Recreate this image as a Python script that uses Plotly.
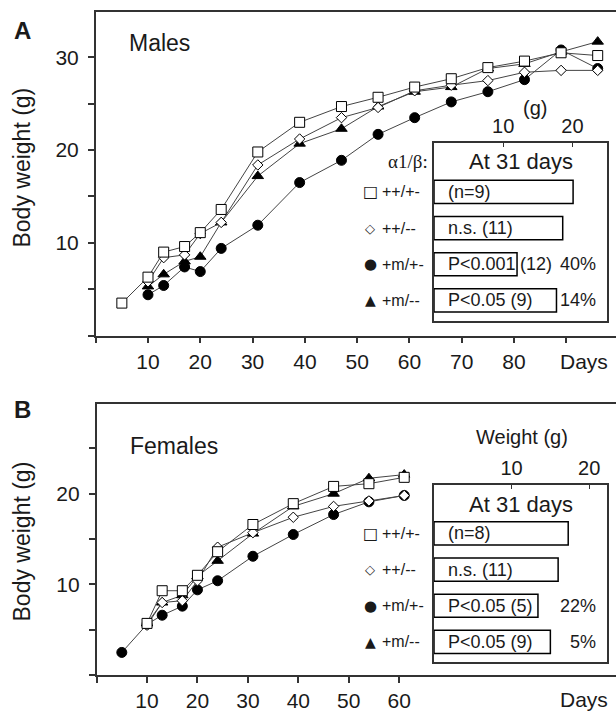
import plotly.graph_objects as go

# ---------------- data ----------------
# Panel A: Males
days_m = [10, 13, 17, 20, 24, 31, 39, 47, 54, 61, 68, 75, 82, 89, 96]
days_m_sq = [5] + days_m
sq_m = [3.5, 6.3, 9.0, 9.6, 11.1, 13.6, 19.8, 23.0, 24.7, 25.7, 26.8, 27.7, 28.9, 29.6, 30.5, 30.2]
di_m = [5.8, 8.4, 8.7, 11.0, 12.2, 18.4, 21.2, 23.5, 24.6, 26.4, 27.0, 27.5, 28.4, 28.6, 28.6]
ci_m = [4.4, 5.4, 7.4, 6.9, 9.4, 11.9, 16.5, 18.9, 21.7, 23.5, 25.2, 26.3, 27.6, 30.8, 28.8]
tr_m = [5.3, 6.6, 8.0, 8.5, 12.2, 17.2, 20.7, 22.3, 24.7, 26.3, 26.8, 28.8, 29.3, 30.6, 31.7]

# Panel B: Females
days_f = [10, 13, 17, 20, 24, 31, 39, 47, 54, 61]
days_f_ci = [5] + days_f
sq_f = [5.7, 9.3, 9.3, 11.0, 13.6, 16.6, 18.9, 20.8, 21.1, 21.8]
di_f = [5.5, 8.0, 8.2, 10.4, 14.1, 15.7, 17.4, 18.6, 19.2, 19.8]
ci_f = [2.5, 5.6, 6.6, 7.6, 9.4, 10.4, 13.1, 15.5, 17.7, 19.1, 19.8]
tr_f = [5.7, 8.0, 8.8, 10.9, 12.6, 15.6, 18.6, 20.0, 21.7, 22.1]

# Insets: weight at 31 days
genotypes = ["++/+-", "++/--", "+m/+-", "+m/--"]
geno_symbols = ["\u25a1", "\u25c7", "\u25cf", "\u25b2"]
geno_sym_size = [16, 13, 15, 14]
rows = [1, 2, 3, 4]
bar_m = [20.1, 18.6, 12.0, 17.7]
bar_f = [17.3, 16.0, 13.4, 15.0]
inbar_m = ["(n=9)", "n.s. (11)", "P<0.001", "P<0.05 (9)"]
after_m = ["", "", "(12)", ""]
pct_m = ["", "", "40%", "14%"]
inbar_f = ["(n=8)", "n.s. (11)", "P<0.05 (5)", "P<0.05 (9)"]
pct_f = ["", "", "22%", "5%"]

x_ticks_m = [0, 10, 20, 30, 40, 50, 60, 70, 80, 90]
x_ticks_f = [0, 10, 20, 30, 40, 50, 60]

# ---------------- styling ----------------
W, H = 616, 712
FONT = "Liberation Sans, Arial, Helvetica, sans-serif"
SERIF = "Liberation Serif, Times New Roman, serif"
SYMFONT = "DejaVu Sans"
INK = "#1a1a1a"
AX = "#333333"
LINE = "#444444"

def px(x):
    return x / W

def py(y):
    return 1 - y / H

fig = go.Figure()

def series(xs, ys, sym, size, fill, xa, ya):
    fig.add_trace(go.Scatter(
        x=xs, y=ys, mode="lines+markers", xaxis=xa, yaxis=ya,
        line=dict(color=LINE, width=1),
        marker=dict(symbol=sym, size=size, color=fill, line=dict(color="black", width=1)),
        showlegend=False, cliponaxis=False))

# Panel A
series(days_m, ci_m, "circle", 10, "black", "x", "y")
series(days_m, tr_m, "triangle-up", 10, "black", "x", "y")
series(days_m, di_m, "diamond", 8, "white", "x", "y")
series(days_m_sq, sq_m, "square", 10, "white", "x", "y")
# Panel B
series(days_f_ci, ci_f, "circle", 10, "black", "x2", "y2")
series(days_f, tr_f, "triangle-up", 10, "black", "x2", "y2")
series(days_f, di_f, "diamond", 8, "white", "x2", "y2")
series(days_f, sq_f, "square", 10, "white", "x2", "y2")

# Inset bars
for vals, xa, ya in [(bar_m, "x3", "y3"), (bar_f, "x4", "y4")]:
    fig.add_trace(go.Bar(
        x=vals, y=rows, orientation="h", xaxis=xa, yaxis=ya,
        width=0.64, marker=dict(color="white", line=dict(color="black", width=1.5)),
        showlegend=False, hoverinfo="skip"))

tickfont = dict(family=FONT, size=21, color=INK)

main_x = dict(showline=True, linecolor=AX, linewidth=1.5, mirror=True, ticks="outside",
              ticklen=6, tickcolor=AX, tickwidth=1.5, showgrid=False, zeroline=False,
              tickfont=tickfont)
main_y = dict(showline=True, linecolor=AX, linewidth=1.5, ticks="outside", ticklen=6,
              tickcolor=AX, tickwidth=1.5, showgrid=False, zeroline=False, tickfont=tickfont,
              ticklabelstandoff=5)

ins_x = dict(showline=True, linecolor=AX, linewidth=1.5, mirror=True, side="top",
             ticks="inside", ticklen=5, tickcolor=AX, tickwidth=1.2, showgrid=False,
             zeroline=False, tickfont=dict(family=FONT, size=20, color=INK))
ins_y = dict(showline=True, linecolor=AX, linewidth=1.5, mirror=True, ticks="",
             showticklabels=False, showgrid=False, zeroline=False)

fig.update_layout(
    width=W, height=H, autosize=False,
    margin=dict(l=0, r=0, t=0, b=0),
    paper_bgcolor="white", plot_bgcolor="white",
    font=dict(family=FONT, color=INK),
    xaxis=dict(main_x, domain=[px(95.7), 1], range=[0, 99.5], anchor="y",
               tickvals=x_ticks_m, ticktext=[""] + [str(v) for v in x_ticks_m[1:-1]] + [""]),
    yaxis=dict(main_y, domain=[py(336.5), py(12)], range=[0, 34.9], anchor="x",
               tickvals=[0, 5, 10, 15, 20, 25, 30], ticktext=["", "", "10", "", "20", "", "30"]),
    xaxis2=dict(main_x, domain=[px(96.6), 1], range=[0, 103], anchor="y2",
                tickvals=x_ticks_f, ticktext=[""] + [str(v) for v in x_ticks_f[1:]]),
    yaxis2=dict(main_y, domain=[py(677), py(405)], range=[0, 29.9], anchor="x2",
                tickvals=[0, 5, 10, 15, 20, 25], ticktext=["", "", "10", "", "20", ""]),
    xaxis3=dict(ins_x, domain=[px(434), px(607)], range=[0, 25], anchor="y3",
                tickvals=[0, 10, 20], ticktext=["", "10", "20"]),
    yaxis3=dict(ins_y, domain=[py(322), py(143)], range=[4.57, -0.36], anchor="x3"),
    xaxis4=dict(ins_x, domain=[px(434), px(607)], range=[0, 22.3], anchor="y4",
                tickvals=[0, 10, 20], ticktext=["", "10", "20"]),
    yaxis4=dict(ins_y, domain=[py(664), py(486)], range=[4.56, -0.35], anchor="x4"),
)

ann = []

def text(x, y, s, size, xref="paper", yref="paper", xanchor="center", yanchor="middle",
         xshift=0, angle=0, bold=False, family=FONT):
    ann.append(dict(x=x, y=y, xref=xref, yref=yref, text=("<b>%s</b>" % s) if bold else s,
                    showarrow=False, xanchor=xanchor, yanchor=yanchor, xshift=xshift,
                    textangle=angle, font=dict(family=family, size=size, color=INK)))

# Panel letters and titles
text(px(22), py(31), "A", 24, bold=True)
text(px(22), py(411), "B", 24, bold=True)
text(px(160), py(43), "Males", 23)
text(px(174), py(447), "Females", 23)
text(px(22), py(168), "Body weight (g)", 23, angle=-90)
text(px(22), py(543), "Body weight (g)", 23, angle=-90)
text(px(584), py(363), "Days", 21)
text(px(584), py(701), "Days", 21)

def legend(xa, ya):
    for i, r in enumerate(rows):
        text(0, r, geno_symbols[i], geno_sym_size[i], xref=xa, yref=ya,
             xanchor="center", xshift=-64, family=SYMFONT)
        text(0, r, genotypes[i], 16, xref=xa, yref=ya, xanchor="left", xshift=-54)

# Inset A
text(px(535), py(108), "(g)", 20)
text(0.5, 0.894, "At 31 days", 22, xref="x3 domain", yref="y3 domain")
text(0, 0.894, "\u03b11/\u03b2:", 19, xref="x3", yref="y3 domain", xanchor="right", xshift=-4,
     family=SERIF)
legend("x3", "y3")
for i, r in enumerate(rows):
    text(0, r, inbar_m[i], 18, xref="x3", yref="y3", xanchor="left", xshift=12)
    if after_m[i]:
        text(bar_m[i], r, after_m[i], 18, xref="x3", yref="y3", xanchor="left", xshift=1)
    if pct_m[i]:
        text(1, r, pct_m[i], 18, xref="x3 domain", yref="y3", xanchor="right", xshift=-9)

# Inset B
text(px(522), py(438), "Weight (g)", 20)
text(0.5, 0.888, "At 31 days", 22, xref="x4 domain", yref="y4 domain")
legend("x4", "y4")
for i, r in enumerate(rows):
    text(0, r, inbar_f[i], 18, xref="x4", yref="y4", xanchor="left", xshift=12)
    if pct_f[i]:
        text(1, r, pct_f[i], 18, xref="x4 domain", yref="y4", xanchor="right", xshift=-9)

fig.update_layout(annotations=ann)
fig.write_html("out.html", config={"displayModeBar": False},
               post_script="document.body.style.margin='0';")
